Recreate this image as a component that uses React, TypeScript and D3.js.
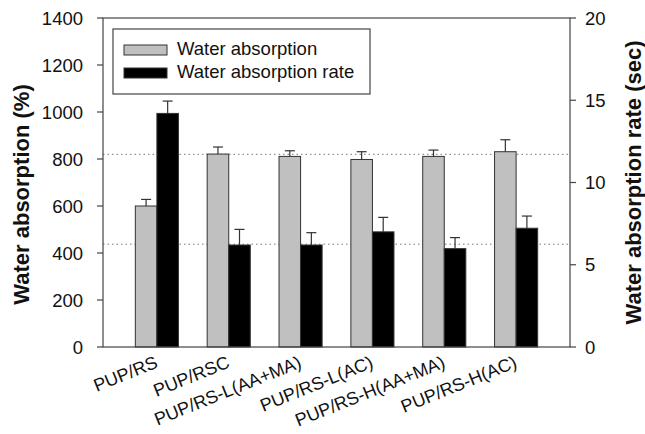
import React from 'react';
import * as d3 from 'd3';

const categories = [
  'PUP/RS',
  'PUP/RSC',
  'PUP/RS-L(AA+MA)',
  'PUP/RS-L(AC)',
  'PUP/RS-H(AA+MA)',
  'PUP/RS-H(AC)',
];
const absorption = [600, 821, 811, 798, 811, 831];
const absorptionErr = [28, 30, 24, 33, 27, 51];
const absorptionRate = [14.2, 6.2, 6.2, 7.0, 5.98, 7.22];
const absorptionRateErr = [0.75, 0.95, 0.75, 0.88, 0.67, 0.74];

const leftTicks = [0, 200, 400, 600, 800, 1000, 1200, 1400];
const rightTicks = [0, 5, 10, 15, 20];

// dotted reference lines
const refLeft = 820;
const refRight = 6.25;

const width = 645;
const height = 434;
const margin = { top: 18, right: 75, bottom: 87, left: 103 };
const font = '"Liberation Sans", Arial, sans-serif';
const axisColor = '#444';

const App = () => {
  const x0 = margin.left;
  const x1 = width - margin.right;
  const yTop = margin.top;
  const yBottom = height - margin.bottom;

  const x = d3.scalePoint<string>().domain(categories).range([x0, x1]).padding(0.75);
  const step = x.step();
  const barW = step * 0.3;

  const yLeft = d3.scaleLinear().domain([0, 1400]).range([yBottom, yTop]);
  const yRight = d3.scaleLinear().domain([0, 20]).range([yBottom, yTop]);

  const capW = 10;

  return (
    <svg
      width={width}
      height={height}
      style={{ position: 'absolute', left: 0, top: 0, background: '#fff' }}
      fontFamily={font}
    >
      {/* reference lines */}
      {[yLeft(refLeft), yRight(refRight)].map((yy, i) => (
        <line
          key={'ref' + i}
          x1={x0}
          x2={x1}
          y1={yy}
          y2={yy}
          stroke="#777"
          strokeWidth={1}
          strokeDasharray="1.5,3"
        />
      ))}

      {/* error bars */}
      {categories.map((c, i) => {
        const cx1 = (x(c) as number) - barW / 2;
        const cx2 = (x(c) as number) + barW / 2;
        const t1 = yLeft(absorption[i] + absorptionErr[i]);
        const t2 = yRight(absorptionRate[i] + absorptionRateErr[i]);
        return (
          <g key={'err' + c} stroke="#333" strokeWidth={1.2}>
            <line x1={cx1} x2={cx1} y1={yLeft(absorption[i])} y2={t1} />
            <line x1={cx1 - capW / 2} x2={cx1 + capW / 2} y1={t1} y2={t1} />
            <line x1={cx2} x2={cx2} y1={yRight(absorptionRate[i])} y2={t2} />
            <line x1={cx2 - capW / 2} x2={cx2 + capW / 2} y1={t2} y2={t2} />
          </g>
        );
      })}

      {/* bars */}
      {categories.map((c, i) => (
        <g key={'bar' + c}>
          <rect
            x={(x(c) as number) - barW}
            y={yLeft(absorption[i])}
            width={barW}
            height={yBottom - yLeft(absorption[i])}
            fill="#c0c0c0"
            stroke="#333"
            strokeWidth={1}
          />
          <rect
            x={x(c) as number}
            y={yRight(absorptionRate[i])}
            width={barW}
            height={yBottom - yRight(absorptionRate[i])}
            fill="#000"
            stroke="#333"
            strokeWidth={1}
          />
        </g>
      ))}

      {/* frame */}
      <rect
        x={x0}
        y={yTop}
        width={x1 - x0}
        height={yBottom - yTop}
        fill="none"
        stroke={axisColor}
        strokeWidth={1.2}
      />

      {/* left axis */}
      {leftTicks.map((t) => (
        <g key={'lt' + t}>
          <line x1={x0 - 6} x2={x0} y1={yLeft(t)} y2={yLeft(t)} stroke={axisColor} strokeWidth={1.2} />
          <text x={x0 - 20} y={yLeft(t)} dy="0.36em" textAnchor="end" fontSize={18.5} fill="#111">
            {t}
          </text>
        </g>
      ))}

      {/* right axis */}
      {rightTicks.map((t) => (
        <g key={'rt' + t}>
          <line x1={x1} x2={x1 + 6} y1={yRight(t)} y2={yRight(t)} stroke={axisColor} strokeWidth={1.2} />
          <text x={x1 + 15} y={yRight(t)} dy="0.36em" textAnchor="start" fontSize={18.5} fill="#111">
            {t}
          </text>
        </g>
      ))}

      {/* category labels */}
      {categories.map((c) => (
        <text
          key={'lab' + c}
          transform={`translate(${(x(c) as number) + 2},${yBottom + 20}) rotate(-22)`}
          textAnchor="end"
          fontSize={18}
          fill="#111"
        >
          {c}
        </text>
      ))}

      {/* axis titles */}
      <text
        transform={`translate(29,${(yTop + yBottom) / 2 + 12}) rotate(-90)`}
        textAnchor="middle"
        fontSize={22}
        fontWeight="bold"
        fill="#111"
      >
        Water absorption (%)
      </text>
      <text
        transform={`translate(641,${(yTop + yBottom) / 2}) rotate(-90)`}
        textAnchor="middle"
        fontSize={22}
        fontWeight="bold"
        fill="#111"
      >
        Water absorption rate (sec)
      </text>

      {/* legend */}
      <g>
        <rect x={113} y={29} width={257} height={65} fill="#fff" stroke={axisColor} strokeWidth={1.2} />
        <rect x={124} y={45} width={43} height={10} fill="#c0c0c0" stroke="#333" strokeWidth={1} />
        <rect x={124} y={68} width={43} height={10} fill="#000" stroke="#333" strokeWidth={1} />
        <text x={177} y={55} fontSize={18.5} fill="#111">
          Water absorption
        </text>
        <text x={177} y={78} fontSize={18.5} fill="#111">
          Water absorption rate
        </text>
      </g>
    </svg>
  );
};

export default App;
